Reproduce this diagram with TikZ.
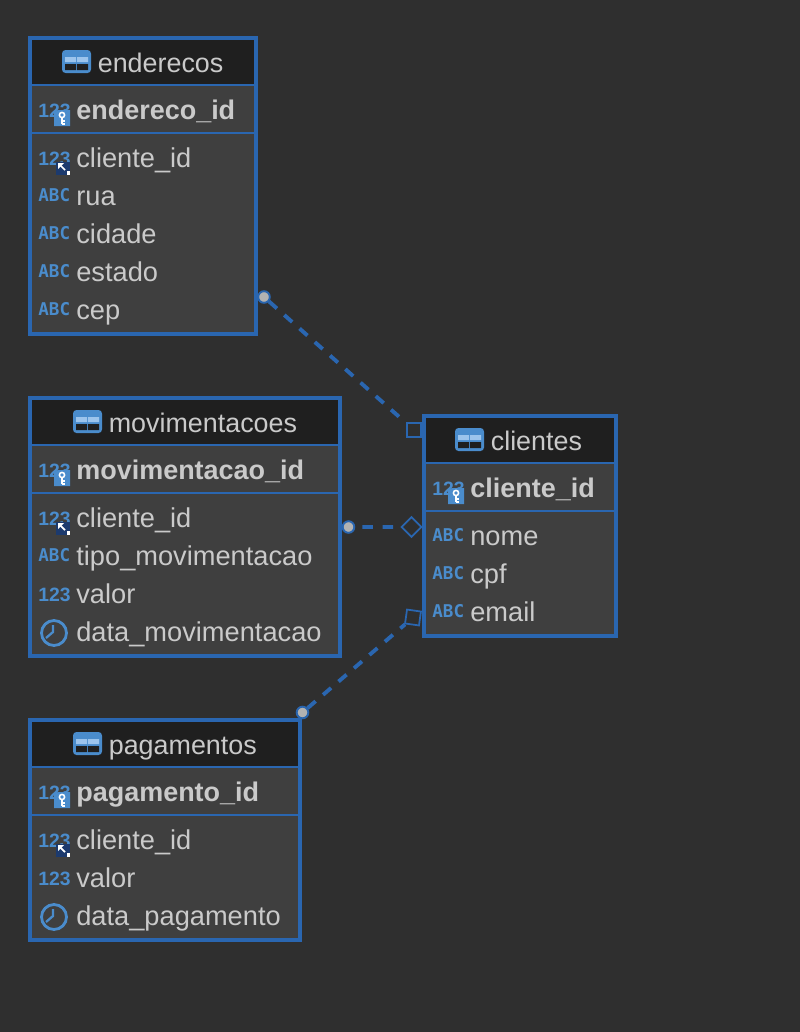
\documentclass[tikz,border=0pt]{standalone}
\usepackage{fontspec}
\usepackage{xcolor}
\usetikzlibrary{positioning,fit}
\setmainfont{Liberation Sans}
\newfontfamily\abcfont{DejaVu Sans Mono}
\definecolor{erdBack}{HTML}{2F2F2F}
\definecolor{erdBody}{HTML}{3F3F3F}
\definecolor{erdHead}{HTML}{1F1F1F}
\definecolor{erdBlue}{HTML}{2A66B0}
\definecolor{erdIcon}{HTML}{4A8CCC}
\definecolor{erdPane}{HTML}{9CC4EC}
\definecolor{erdText}{HTML}{CACACA}
\definecolor{erdNavy}{HTML}{1C3A6E}
\tikzset{
    erdbox/.style={draw=erdBlue,fill=erdBody,line width=2.27pt,inner sep=0pt},
    erdline/.style={draw=erdBlue,line width=1.1pt},
    erdlabel/.style={text=erdText,inner sep=0pt,anchor=base west,font=\fontsize{15.5}{18}\selectfont},
    erdtitle/.style={erdlabel,font=\fontsize{15.3}{18}\selectfont},
    erdpk/.style={erdlabel,font=\fontsize{15.35}{18}\selectfont\bfseries},
    erdtype/.style={text=erdIcon,inner sep=0pt,anchor=base west,font=\fontsize{11}{12}\selectfont\bfseries},
    enddot/.style={circle,draw=erdBlue,fill=gray!60,line width=1.1pt,inner sep=0pt,minimum size=6.6pt},
    endbox/.style={rectangle,draw=erdBlue,line width=1pt,inner sep=0pt,minimum size=8pt},
    reldash/.style={draw=erdBlue,line width=2.2pt,dash pattern=on 6pt off 5.6pt},
}
% row icons, drawn around (0,0) = left end and middle of a row
\newcommand{\numicon}{\node[erdtype] (numtype) at (0,6) {123};}
\newcommand{\abcicon}{\node[erdtype,font=\abcfont\bfseries\fontsize{10}{12}\selectfont] (abctype) at (0,4) {ABC};}
\newcommand{\timeicon}{
    \draw[erdIcon,line width=1.6pt] (16,0) circle (12.5);
    \draw[erdIcon,line width=1.3pt] (15,-8) -- (15,-1) -- (8,5);
}
\newcommand{\fkicon}{
    \numicon
    \fill[erdNavy] (18,3) rectangle (32,16);
    \fill[white] (29,12) rectangle (32,16);
    \draw[white,line width=1pt] (27,11) -- (22,6);
    \fill[white] (20,4) -- (26,4) -- (20,10) -- cycle;
}
\newcommand{\keyicon}{
    \numicon
    \fill[erdIcon] (16,1) -- (20,-1) -- (32,-1) -- (32,15) -- (16,15) -- cycle;
    \draw[white,line width=0.9pt] (24,4) circle (2.6);
    \draw[white,line width=0.9pt] (24,7) -- (24,13) (24,10) -- (27,10) (24,13) -- (27,13);
}
\newcommand{\tableicon}[2]{
    \fill[erdIcon,rounded corners=2pt] (#1,#2-12) rectangle (#1+29,#2+11);
    \fill[erdPane] (#1+3,#2-5) rectangle (#1+14,#2) (#1+15,#2-5) rectangle (#1+26,#2);
    \fill[erdHead] (#1+3,#2+2) rectangle (#1+14,#2+8) (#1+15,#2+2) rectangle (#1+26,#2+8);
}
% name, left, top, right, bottom, icon x, title, key column, other columns
\newcommand{\erdtable}[9]{
    \coordinate (#1nw) at (#2,#3);
    \coordinate (#1se) at (#4,#5);
    \node[erdbox,fit=(#1nw)(#1se)] (#1) {};
    \fill[erdHead] ({#2+2},{#3+2}) rectangle ({#4-2},{#3+47});
    \draw[erdline] ({#2+2},{#3+47}) -- ({#4-2},{#3+47});
    \draw[erdline] ({#2+2},{#3+95}) -- ({#4-2},{#3+95});
    \tableicon{#6}{#3+24}
    \node[erdtitle] (#1title) at ({#6+35.5},{#3+34}) {#7};
    \begin{scope}[shift={({#2+8},{#3+73})}]
        \keyicon
    \end{scope}
    \node[erdpk] (#1pk) at ({#2+46},{#3+81}) {#8};
    \foreach \kind/\colname [count=\n] in {#9}{
        \pgfmathsetmacro{\rowy}{#3+121+38*(\n-1)}
        \begin{scope}[shift={({#2+8},\rowy)}]
            \kind
        \end{scope}
        \node[erdlabel] (#1row\n) at ({#2+46},{\rowy+8.5}) {\colname};
    }
}

\begin{document}
\begin{tikzpicture}[x=0.02cm,y=-0.02cm]
    \fill[erdBack] (0,0) rectangle (800,1032);
    \useasboundingbox (0,0) rectangle (800,1032);

    \erdtable{enderecos}{30}{38}{256}{334}{62}{enderecos}{endereco\_id}
        {\fkicon/cliente\_id,\abcicon/rua,\abcicon/cidade,\abcicon/estado,\abcicon/cep}
    \erdtable{movimentacoes}{30}{398}{340}{656}{73}{movimentacoes}{movimentacao\_id}
        {\fkicon/cliente\_id,\abcicon/tipo\_movimentacao,\numicon/valor,\timeicon/data\_movimentacao}
    \erdtable{clientes}{424}{416}{616}{636}{455}{clientes}{cliente\_id}
        {\abcicon/nome,\abcicon/cpf,\abcicon/email}
    \erdtable{pagamentos}{30}{720}{300}{940}{73}{pagamentos}{pagamento\_id}
        {\fkicon/cliente\_id,\numicon/valor,\timeicon/data\_pagamento}

    \node[enddot] (enderecosend) at (264,297) {};
    \node[enddot] (movimentacoesend) at (348.5,527) {};
    \node[enddot] (pagamentosend) at (302.5,712.5) {};
    \node[endbox] (clientesa) at (414,430) {};
    \node[endbox,rotate=45] (clientesb) at (411.5,527) {};
    \node[endbox,rotate=-8] (clientesc) at (413,617.5) {};

    \draw[reldash] (enderecosend) -- (clientesa);
    \draw[reldash,dash phase=7.6pt] (movimentacoesend) -- (clientesb);
    \draw[reldash] (pagamentosend) -- (clientesc);
\end{tikzpicture}
\end{document}
